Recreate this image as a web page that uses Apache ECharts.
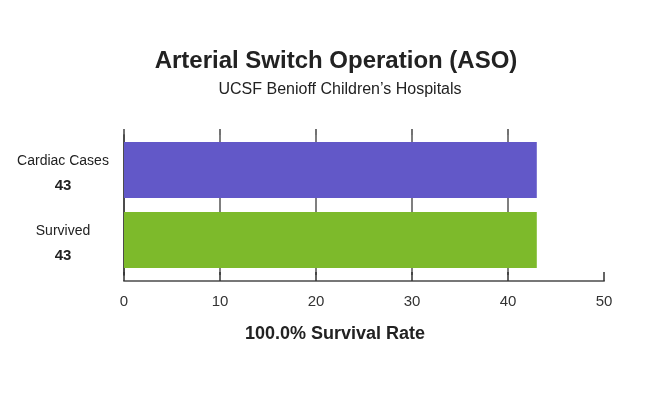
<!DOCTYPE html>
<html><head><meta charset="utf-8">
<script src="https://cdn.jsdelivr.net/npm/echarts@6/dist/echarts.min.js"></script>
<style>html,body{margin:0;padding:0;background:#fff}#c{width:651px;height:394px}</style>
</head><body><div id="c"></div>
<script>
const categories = ['Cardiac Cases', 'Survived'];
const values = [43, 43];
const barColors = ['#6258C8', '#7DBA2B'];
const xTicks = [0, 10, 20, 30, 40, 50];
const titleText = 'Arterial Switch Operation (ASO)';
const subtitleText = 'UCSF Benioff Children\u2019s Hospitals';
const xName = '100.0% Survival Rate';

const ff = '"Liberation Sans", Arial, Helvetica, sans-serif';
const chart = echarts.init(document.getElementById('c'));
chart.setOption({
  animation: false,
  title: [
    { text: titleText, left: 331, top: 44, textAlign: 'center',
      textStyle: { fontFamily: ff, fontSize: 24, fontWeight: 'bold', color: '#222' } },
    { text: subtitleText, left: 335, top: 77, textAlign: 'center',
      textStyle: { fontFamily: ff, fontSize: 16, fontWeight: 'normal', color: '#222' } },
    { text: xName, left: 330, top: 320, textAlign: 'center',
      textStyle: { fontFamily: ff, fontSize: 18, fontWeight: 'bold', color: '#222' } }
  ],
  grid: { left: 124, right: 47, top: 135, bottom: 119 },
  xAxis: [{
    type: 'value', position: 'bottom', offset: 6,
    min: xTicks[0], max: xTicks[xTicks.length - 1], interval: 10,
    axisLine: { show: true, lineStyle: { color: '#777', width: 2 } },
    axisTick: { show: true, inside: true, length: 9, lineStyle: { color: '#333', width: 1.5 } },
    axisLabel: { margin: 13, fontFamily: ff, fontSize: 15, color: '#333' },
    splitLine: { show: true, showMinLine: false, showMaxLine: false, lineStyle: { color: '#555', width: 1.5 } }
  }, {
    type: 'value', position: 'top', offset: 6,
    min: xTicks[0], max: xTicks[xTicks.length - 1], interval: 10,
    axisLine: { show: false },
    axisTick: { show: true, inside: true, length: 6, customValues: xTicks.slice(0, -1),
      lineStyle: { color: '#444', width: 1.5 } },
    axisLabel: { show: false },
    splitLine: { show: false }
  }],
  yAxis: {
    type: 'category', inverse: true, data: categories,
    axisLine: { show: true, lineStyle: { color: '#111', width: 1.5 } },
    axisTick: { show: false },
    axisLabel: {
      align: 'center', margin: 61, padding: [7, 0, 0, 0],
      formatter: (v, i) => '{n|' + v + '}\n{v|' + values[i] + '}',
      rich: {
        n: { fontFamily: ff, fontSize: 14, color: '#222', lineHeight: 25, align: 'center' },
        v: { fontFamily: ff, fontSize: 15, fontWeight: 'bold', color: '#222', lineHeight: 25, align: 'center' }
      }
    }
  },
  series: [{
    type: 'bar', barWidth: 56, xAxisIndex: 0,
    data: values.map((v, i) => ({ value: v, itemStyle: { color: barColors[i] } }))
  }]
});
</script></body></html>
